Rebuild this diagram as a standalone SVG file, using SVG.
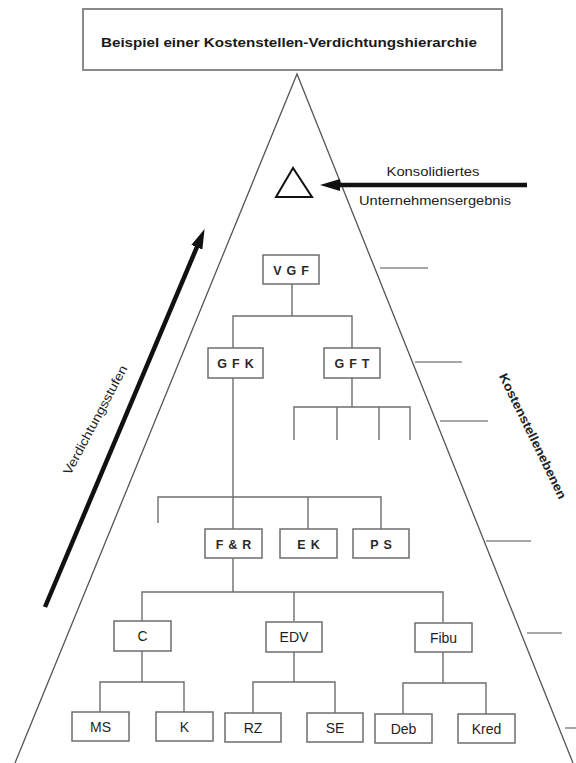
<svg xmlns="http://www.w3.org/2000/svg" width="576" height="763" viewBox="0 0 576 763">
<style>
.box{fill:#fff;stroke:#6e6e6e;stroke-width:1.5}
.ln{fill:none;stroke:#6e6e6e;stroke-width:1.4}
.lvl{fill:none;stroke:#8a8a8a;stroke-width:1.4}
.up{font-family:"Liberation Sans",Arial,sans-serif;font-size:12.5px;font-weight:bold;fill:#2a2a2a;letter-spacing:5px;text-anchor:middle}
.lo{font-family:"Liberation Sans",Arial,sans-serif;font-size:14px;fill:#1e1e1e;text-anchor:middle}
.lab{font-family:"Liberation Sans",Arial,sans-serif;font-size:12.5px;fill:#222;text-anchor:middle}
.big{fill:none;stroke:#111;stroke-width:4.5}
</style>
<defs>
<marker id="ah" viewBox="0 0 20 12" refX="1" refY="6" markerWidth="20" markerHeight="12" markerUnits="userSpaceOnUse" orient="auto">
<path d="M0,0 L20,6 L0,12 z" fill="#111"/>
</marker>
</defs>
<rect width="576" height="763" fill="#fff"/>
<g id="title">
<rect x="83" y="9" width="419" height="61" fill="#fff" stroke="#8a8a8a" stroke-width="2"/>
<text x="289" y="47" font-family="'Liberation Sans',Arial,sans-serif" font-size="13.5" font-weight="bold" fill="#1a1a1a" text-anchor="middle" textLength="376" lengthAdjust="spacingAndGlyphs">Beispiel einer Kostenstellen-Verdichtungshierarchie</text>
</g>
<g id="pyramid">
<polyline points="15,763 297,74 573,763" fill="none" stroke="#555" stroke-width="1.3"/>
</g>
<g id="levels">
<path class="lvl" d="M380,268 H428 M415,362 H462 M440,421 H488 M486,541 H531 M527,633 H562 M565,728 H576"/>
</g>
<g id="result">
<polygon points="293,168 276,197 312,197" fill="none" stroke="#111" stroke-width="2"/>
<line class="big" x1="527" y1="185" x2="339" y2="185" marker-end="url(#ah)"/>
<text class="lab" x="433" y="176" textLength="93" lengthAdjust="spacingAndGlyphs">Konsolidiertes</text>
<text class="lab" x="435" y="205" textLength="152" lengthAdjust="spacingAndGlyphs">Unternehmensergebnis</text>
</g>
<g id="verdichtung">
<line class="big" x1="45" y1="607" x2="197.2" y2="246.4" marker-end="url(#ah)"/>
<text class="lab" transform="translate(99,422) rotate(-62)" textLength="122" lengthAdjust="spacingAndGlyphs">Verdichtungsstufen</text>
</g>
<g id="ebenen">
<text class="lab" font-weight="bold" transform="translate(529,438) rotate(64)" textLength="138" lengthAdjust="spacingAndGlyphs">Kostenstellenebenen</text>
</g>
<g id="connectors">
<path class="ln" d="M292,284 V316 M233,348 V316 H352 V348"/>
<path class="ln" d="M233,378 V529"/>
<path class="ln" d="M352,378 V407 M294,440 V407 H410 V440 M337,407 V440 M379,407 V440"/>
<path class="ln" d="M158,523 V497 H381 V529 M308,497 V529"/>
<path class="ln" d="M233,558 V592 M142,621 V592 H443 V622 M294,592 V621"/>
<path class="ln" d="M142,651 V682 M100,712 V682 H184 V712"/>
<path class="ln" d="M294,651 V682 M253,713 V682 H335 V713"/>
<path class="ln" d="M443,652 V683 M403,714 V683 H486 V714"/>
</g>
<g id="VGF"><rect class="box" x="263" y="255" width="56" height="29"/><text class="up" x="293.5" y="274.5">VGF</text></g>
<g id="GFK"><rect class="box" x="208" y="348" width="55" height="30"/><text class="up" x="238" y="368">GFK</text></g>
<g id="GFT"><rect class="box" x="324" y="348" width="56" height="30"/><text class="up" x="354.5" y="368">GFT</text></g>
<g id="FR"><rect class="box" x="205" y="529" width="57" height="29"/><text class="up" x="236" y="548.5">F&amp;R</text></g>
<g id="EK"><rect class="box" x="280" y="529" width="57" height="29"/><text class="up" x="311" y="548.5">EK</text></g>
<g id="PS"><rect class="box" x="353" y="529" width="56" height="29"/><text class="up" x="383.5" y="548.5">PS</text></g>
<g id="C"><rect class="box" x="114" y="621" width="57" height="30"/><text class="lo" x="142.5" y="641">C</text></g>
<g id="EDV"><rect class="box" x="266" y="622" width="56" height="30"/><text class="lo" x="294" y="642">EDV</text></g>
<g id="Fibu"><rect class="box" x="415" y="623" width="57" height="29"/><text class="lo" x="443.5" y="642.5">Fibu</text></g>
<g id="MS"><rect class="box" x="72" y="712" width="57" height="29"/><text class="lo" x="100.5" y="731.5">MS</text></g>
<g id="K"><rect class="box" x="156" y="712" width="57" height="29"/><text class="lo" x="184.5" y="731.5">K</text></g>
<g id="RZ"><rect class="box" x="225" y="713" width="56" height="29"/><text class="lo" x="253" y="732.5">RZ</text></g>
<g id="SE"><rect class="box" x="307" y="713" width="56" height="29"/><text class="lo" x="335" y="732.5">SE</text></g>
<g id="Deb"><rect class="box" x="375" y="714" width="57" height="29"/><text class="lo" x="403.5" y="733.5">Deb</text></g>
<g id="Kred"><rect class="box" x="458" y="714" width="57" height="29"/><text class="lo" x="486.5" y="733.5">Kred</text></g>
</svg>
